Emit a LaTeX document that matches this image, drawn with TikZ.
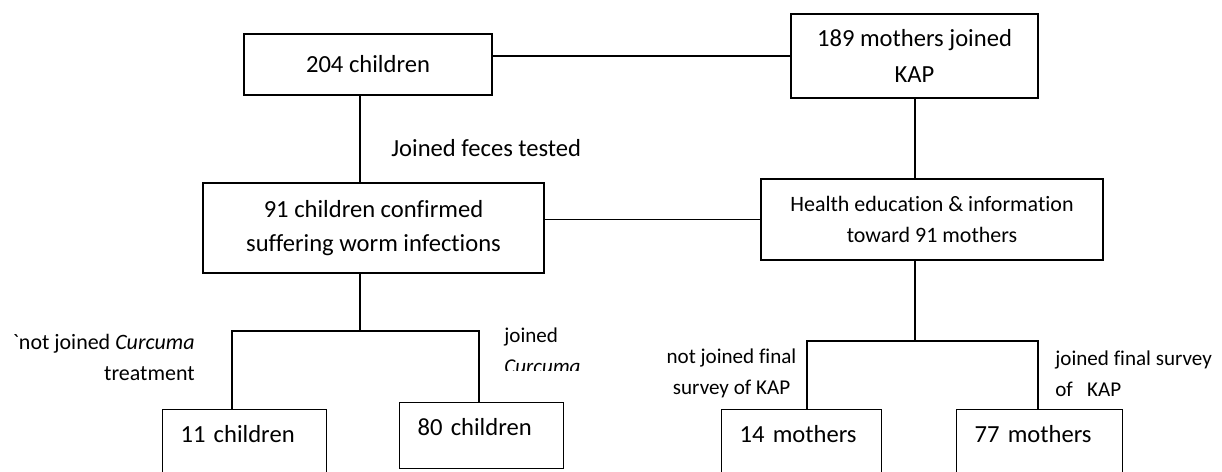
\documentclass[tikz,border=0pt]{standalone}
\usepackage{fontspec}
\setmainfont{Carlito}[Ligatures={TeXOff,CommonOff}]
\tikzset{
 box/.style={draw,line width=0.7pt,align=center,inner sep=2pt},
 lowbox/.style={draw,line width=0.7pt,anchor=north west,align=left,inner xsep=0.36cm,inner ysep=0pt,text height=0.66cm,font=\fontsize{14}{20}\selectfont},
 note/.style={inner sep=0pt,font=\fontsize{12}{17.6}\selectfont},
 link/.style={line width=0.6pt}
}

\begin{document}
\begin{tikzpicture}[x=0.02cm,y=-0.02cm]
\useasboundingbox (0,0) rectangle (1222,471);
\clip (0,0) rectangle (1222,471);
% top row
\node[box,minimum width=4.96cm,minimum height=1.22cm,font=\fontsize{14}{21}\selectfont] (kids) at (368,64.5) {204 children};
\node[box,minimum width=4.94cm,minimum height=1.68cm,font=\fontsize{14}{21}\selectfont] (moms) at (914.5,56) {189 mothers joined\\KAP};
% middle row
\node[box,minimum width=6.82cm,minimum height=1.8cm,font=\fontsize{14}{19.8}\selectfont] (infected) at (373.5,228) {91 children confirmed\\suffering worm infections};
\node[box,minimum width=6.84cm,minimum height=1.62cm,font=\fontsize{12.5}{18}\selectfont] (health) at (932,219.5) {Health education \& information\\toward 91 mothers};
\node[anchor=west,inner sep=0pt,font=\fontsize{14}{20}\selectfont] (feces) at (391,148) {Joined feces tested};
% bottom row
\node[lowbox,text width=2.56cm,text depth=1.14cm] (k11) at (162,409) {11 children};
\node[lowbox,text width=2.56cm,text depth=0.66cm] (k80) at (399,402) {80 children};
\node[lowbox,text width=2.48cm,text depth=1.14cm] (m14) at (721,409) {14 mothers};
\node[lowbox,text width=2.60cm,text depth=1.14cm] (m77) at (956,409) {77 mothers};
% junctions
\coordinate (jl) at (360,331);
\coordinate (jr) at (915,341);
\coordinate (bl1) at (232,331);
\coordinate (bl2) at (479,331);
\coordinate (br1) at (807,341);
\coordinate (br2) at (1038,341);
% connectors
\draw[link] (moms.west) -- (moms.west -| kids.east);
\draw[link] (health.west) -- (health.west -| infected.east);
\draw[link] (jl |- kids.south) -- (jl |- infected.north);
\draw[link] (jr |- moms.south) -- (jr |- health.north);
\draw[link] (jl |- infected.south) -- (jl);
\draw[link] (bl1 |- k11.north) -- (bl1) -- (bl2) -- (bl2 |- k80.north);
\draw[link] (jr |- health.south) -- (jr);
\draw[link] (br1 |- m14.north) -- (br1) -- (br2) -- (br2 |- m77.north);
% branch labels
\node[note,anchor=east,align=right,font=\fontsize{12.5}{17.6}\selectfont] (cnot) at (195,357.5) {`not joined \textit{Curcuma}\\treatment};
\begin{scope}
\clip (490,315) rectangle (620,370);
\node[note,anchor=west,align=left] (cjoin) at (504,351) {joined\\\textit{Curcuma}};
\end{scope}
\node[note,align=center] (mnot) at (731.5,373.5) {not joined final\\survey of KAP};
\node[note,anchor=west,align=left] (mjoin) at (1055,373.5) {joined final survey\\of~~~KAP};
\end{tikzpicture}
\end{document}
